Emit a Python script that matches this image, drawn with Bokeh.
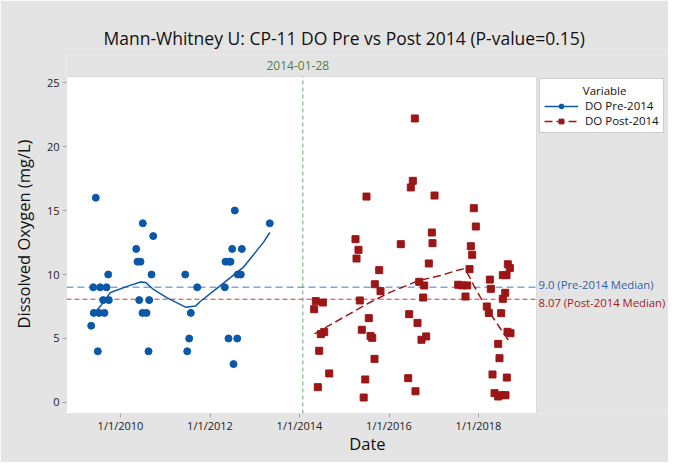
from datetime import date
from bokeh.plotting import figure
from bokeh.models import Range1d, FixedTicker, Label, Legend, LegendItem, BoxAnnotation
from bokeh.embed import file_html
from bokeh.resources import INLINE

# ---------------- data (decimal years, mg/L) ----------------
pre_year = [2009.345, 2009.403, 2009.390, 2009.448, 2009.493, 2009.524, 2009.546, 2009.613,
            2009.642, 2009.687, 2009.725, 2009.739, 2010.351, 2010.380, 2010.447, 2010.418,
            2010.492, 2010.581, 2010.641, 2010.626, 2010.693, 2010.498, 2010.731, 2011.446,
            2011.491, 2011.535, 2011.571, 2011.714, 2012.331, 2012.346, 2012.429, 2012.458,
            2012.413, 2012.496, 2012.525, 2012.554, 2012.608, 2012.621, 2012.688, 2012.711,
            2013.336]
pre_do = [6, 7, 9, 16, 4, 7, 9, 8,
          7, 9, 10, 8, 12, 11, 11, 8,
          7, 7, 8, 4, 10, 14, 13, 10,
          4, 5, 7, 9, 9, 11, 11, 11,
          5, 12, 3, 15, 5, 10, 10, 12,
          14]

post_year = [2016.577, 2016.532, 2016.487, 2015.497, 2017.017, 2017.895, 2017.940, 2015.251,
             2016.957, 2015.318, 2016.263, 2016.972, 2017.828, 2015.274, 2017.859, 2016.889,
             2015.781, 2017.799, 2018.655, 2018.700, 2018.543, 2018.626, 2018.253, 2015.683,
             2015.810, 2016.675, 2016.787, 2016.764, 2017.546, 2017.636, 2017.747, 2017.709,
             2018.275, 2018.597, 2018.543, 2014.364, 2014.521, 2014.328, 2015.347, 2018.185,
             2018.230, 2018.507, 2016.451, 2016.637, 2015.548, 2015.392, 2015.587, 2015.625,
             2014.476, 2014.552, 2016.831, 2016.726, 2018.648, 2018.715, 2018.440, 2014.440,
             2015.676, 2018.469, 2014.664, 2018.313, 2018.632, 2015.470, 2016.429, 2014.409,
             2016.592, 2015.434, 2018.358, 2018.440, 2018.520, 2018.603]
post_do = [22.19, 17.32, 16.80, 16.09, 16.17, 15.18, 13.75, 12.76,
           13.28, 11.93, 12.37, 12.45, 12.21, 11.25, 11.54, 10.86,
           10.34, 10.42, 10.80, 10.50, 9.95, 9.95, 9.60, 9.24,
           8.70, 9.43, 9.14, 8.20, 9.20, 9.15, 9.15, 8.28,
           8.88, 8.57, 8.10, 7.92, 7.81, 7.29, 7.97, 7.50,
           7.00, 6.98, 6.90, 6.22, 6.59, 5.68, 5.20, 5.05,
           5.34, 5.50, 5.16, 4.90, 5.52, 5.41, 4.58, 4.04,
           3.41, 3.46, 2.27, 2.19, 1.95, 1.80, 1.90, 1.20,
           0.88, 0.39, 0.73, 0.47, 0.57, 0.57]

# LOWESS smoother traces
pre_smooth_year = [2009.419, 2009.553, 2009.739, 2009.777, 2010.150, 2010.447, 2010.559,
                   2010.744, 2011.044, 2011.341, 2011.453, 2011.676, 2011.788, 2012.161,
                   2012.532, 2012.755, 2013.202, 2013.336]
pre_smooth_do = [7.0, 7.53, 8.43, 8.6, 9.07, 9.41, 9.38,
                 8.81, 8.17, 7.65, 7.45, 7.53, 7.91, 8.94,
                 9.97, 10.6, 12.55, 13.28]
post_smooth_year = [2014.335, 2015.512, 2016.034, 2016.666, 2017.151, 2017.560, 2017.672,
                    2017.754, 2017.895, 2018.083, 2018.342, 2018.492, 2018.715]
post_smooth_do = [5.36, 7.71, 8.62, 9.53, 9.92, 10.36, 10.44,
                  10.1, 9.14, 7.97, 6.54, 5.76, 4.63]

pre_median = 9.0
post_median = 8.07
change_day = date(2014, 1, 28)
change_x = change_day.year + (change_day - date(change_day.year, 1, 1)).days / 365.0

x_ticks = [2010, 2012, 2014, 2016, 2018]
x_tick_labels = ["1/1/2010", "1/1/2012", "1/1/2014", "1/1/2016", "1/1/2018"]
y_ticks = [0, 5, 10, 15, 20, 25]

# ---------------- styling / layout ----------------
FONT = "Open Sans"
BLUE = "#0b57a8"
RED = "#9b1616"
BG = "#e4e4e4"
FRAME = "#a6a6a6"

# visible data region
x0, x1 = 2008.793, 2019.296
y0, y1 = -0.86, 25.47

W, H = 668, 462
ML, MT, MB = 66, 54, 49
PLOT_W = 470            # width of the white plot area
PLOT_TOP_GAP = 22       # grey strip between frame top and plot area top
FRAME_W = W - ML
FRAME_H = H - MT - MB
PLOT_H = FRAME_H - PLOT_TOP_GAP
px_x = PLOT_W / (x1 - x0)
px_y = PLOT_H / (y1 - y0)
x_end = x0 + FRAME_W / px_x
y_end = y1 + PLOT_TOP_GAP / px_y

p = figure(width=W, height=H, output_backend="svg", toolbar_location=None,
           x_range=Range1d(x0, x_end), y_range=Range1d(y0, y_end),
           min_border_left=ML, min_border_right=0, min_border_top=MT, min_border_bottom=MB)
p.background_fill_color = BG
p.border_fill_color = BG
p.outline_line_color = None
p.xgrid.visible = False
p.ygrid.visible = False

# white plot area with grey frame
p.add_layout(BoxAnnotation(left=x0, right=x1, bottom=y0, top=y1, fill_color="white",
                           fill_alpha=1.0, line_color=FRAME, line_width=1, level="underlay"))

p.title.text = "Mann-Whitney U: CP-11 DO Pre vs Post 2014 (P-value=0.15)"
p.title.text_font = FONT
p.title.text_font_size = "17.5px"
p.title.text_font_style = "normal"
p.title.text_color = "#111111"
p.title.align = "left"
p.title.offset = 37
p.title.standoff = 10

for ax in (p.xaxis[0], p.yaxis[0]):
    ax.axis_line_color = None
    ax.major_tick_line_color = FRAME
    ax.minor_tick_line_color = None
    ax.major_tick_in = 0
    ax.major_tick_out = 4
    ax.major_label_text_font = FONT
    ax.major_label_text_font_size = "11px"
    ax.major_label_text_color = "#222222"
    ax.axis_label_text_font = FONT
    ax.axis_label_text_font_size = "16.5px"
    ax.axis_label_text_font_style = "normal"
    ax.axis_label_text_color = "#111111"
p.xaxis.major_label_standoff = 0
p.yaxis.major_label_standoff = 3
p.xaxis.axis_label_standoff = -4
p.yaxis.axis_label_standoff = 9

p.xaxis.axis_label = "Date"
p.yaxis.axis_label = "Dissolved Oxygen (mg/L)"
p.xaxis.ticker = FixedTicker(ticks=x_ticks)
p.xaxis.major_label_overrides = dict(zip(x_ticks, x_tick_labels))
p.yaxis.ticker = FixedTicker(ticks=y_ticks)

# reference lines across the plot area
p.segment(x0=[x0], y0=[pre_median], x1=[x1], y1=[pre_median],
          line_color="#7fa7d8", line_dash="7 4", line_width=1.5)
p.segment(x0=[x0], y0=[post_median], x1=[x1], y1=[post_median],
          line_color="#d23a3a", line_dash="5 3", line_width=1)
p.segment(x0=[change_x], y0=[y0], x1=[change_x], y1=[y1],
          line_color="#6aa86a", line_dash="4 3", line_width=1)

# data
pre_line = p.line(pre_smooth_year, pre_smooth_do, line_color=BLUE, line_width=1.5)
pre_pts = p.scatter(pre_year, pre_do, marker="circle", size=7, fill_color=BLUE, line_color=BLUE)
post_line = p.line(post_smooth_year, post_smooth_do, line_color=RED, line_width=1.5, line_dash="8 4")
post_pts = p.scatter(post_year, post_do, marker="square", size=7, fill_color=RED, line_color=RED)

# labels
p.add_layout(Label(x=change_x, y=y1, x_offset=-5, y_offset=11, text="2014-01-28",
                   text_font=FONT, text_font_size="12px", text_color="#4f7f45",
                   text_align="center", text_baseline="middle"))
p.add_layout(Label(x=x1, y=pre_median, x_offset=2, y_offset=3, text="9.0 (Pre-2014 Median)",
                   text_font=FONT, text_font_size="11.3px", text_color="#2d62ad",
                   text_align="left", text_baseline="middle"))
p.add_layout(Label(x=x1, y=post_median, x_offset=2, y_offset=-3, text="8.07 (Post-2014 Median)",
                   text_font=FONT, text_font_size="11.3px", text_color="#a01c1c",
                   text_align="left", text_baseline="middle"))

LEG_H = 57
legend = Legend(items=[LegendItem(label="DO Pre-2014", renderers=[pre_line, pre_pts]),
                       LegendItem(label="DO Post-2014", renderers=[post_line, post_pts])],
                title="\u00a0" * 13 + "Variable",
                location=(PLOT_W + 3, FRAME_H - PLOT_TOP_GAP - LEG_H))
legend.title_text_font = FONT
legend.title_text_font_size = "11.5px"
legend.title_text_font_style = "normal"
legend.title_text_color = "#111111"
legend.title_standoff = 0
legend.label_text_font = FONT
legend.label_text_font_size = "11.5px"
legend.label_text_color = "#111111"
legend.glyph_width = 34
legend.glyph_height = 12
legend.label_height = 12
legend.label_standoff = 7
legend.spacing = 0
legend.padding = 4
legend.margin = 0
legend.border_line_color = "#9a9a9a"
legend.background_fill_color = "white"
legend.background_fill_alpha = 1.0
p.add_layout(legend)

open("out.html", "w").write(file_html(p, INLINE))
